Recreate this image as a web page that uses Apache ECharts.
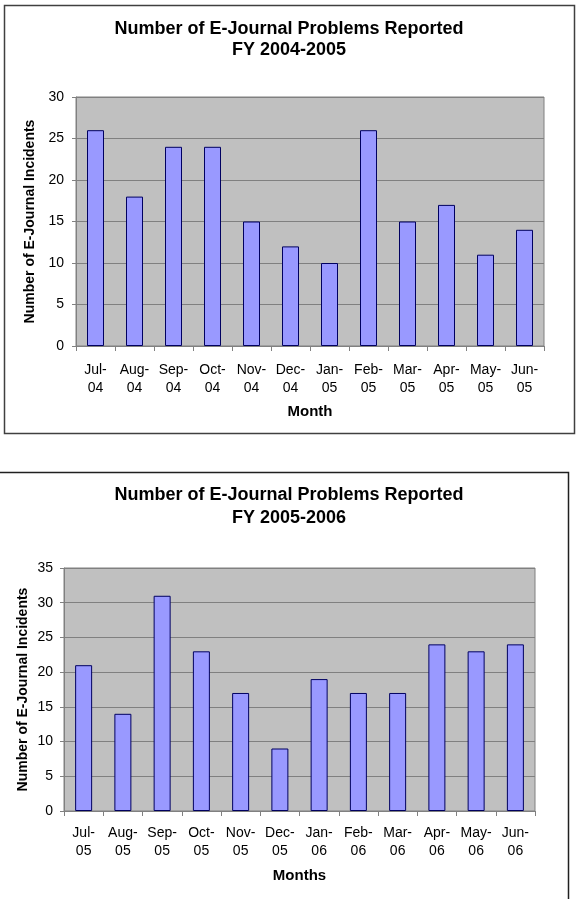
<!DOCTYPE html>
<html>
<head>
<meta charset="utf-8">
<script src="https://cdn.jsdelivr.net/npm/echarts@6/dist/echarts.min.js"></script>
<style>
  html, body { margin: 0; padding: 0; background: #fff; }
  #main { width: 578px; height: 899px; }
</style>
</head>
<body>
<div id="main"></div>
<script>
// 数据
var months1 = ['Jul-\n04', 'Aug-\n04', 'Sep-\n04', 'Oct-\n04', 'Nov-\n04', 'Dec-\n04',
  'Jan-\n05', 'Feb-\n05', 'Mar-\n05', 'Apr-\n05', 'May-\n05', 'Jun-\n05'];
var incidents1 = [26, 18, 24, 24, 15, 12, 10, 26, 15, 17, 11, 14];

var months2 = ['Jul-\n05', 'Aug-\n05', 'Sep-\n05', 'Oct-\n05', 'Nov-\n05', 'Dec-\n05',
  'Jan-\n06', 'Feb-\n06', 'Mar-\n06', 'Apr-\n06', 'May-\n06', 'Jun-\n06'];
var incidents2 = [21, 14, 31, 23, 17, 9, 19, 17, 17, 24, 23, 24];

var font = 'Liberation Sans, Arial, sans-serif';

function yAxisOf(gridIndex, max, gap, margin) {
  return {
    gridIndex: gridIndex,
    type: 'value',
    min: 0,
    max: max,
    interval: 5,
    name: 'Number of E-Journal Incidents',
    nameLocation: 'middle',
    nameGap: gap,
    nameMoveOverlap: false,
    nameTextStyle: { fontFamily: font, fontSize: 14, fontWeight: 'bold', color: '#000' },
    axisLine: { show: true, lineStyle: { color: '#808080' } },
    axisTick: { show: true, length: 4, lineStyle: { color: '#808080' } },
    axisLabel: { color: '#000', fontFamily: font, fontSize: 14, margin: margin },
    //网格线
    splitLine: { show: true, lineStyle: { color: '#808080', width: 1 } }
  };
}

function xAxisOf(gridIndex, data, name, margin, gap) {
  return {
    gridIndex: gridIndex,
    type: 'category',
    data: data,
    name: name,
    nameLocation: 'middle',
    nameGap: gap,
    nameMoveOverlap: false,
    nameTextStyle: { fontFamily: font, fontSize: 15, fontWeight: 'bold', color: '#000' },
    axisLine: { show: true, lineStyle: { color: '#808080' } },
    axisTick: { show: true, length: 5, lineStyle: { color: '#808080' } },
    axisLabel: { color: '#000', fontFamily: font, fontSize: 14, lineHeight: 18, margin: margin, interval: 0 }
  };
}

function barOf(idx, data) {
  return {
    type: 'bar',
    xAxisIndex: idx,
    yAxisIndex: idx,
    data: data,
    barWidth: 17,
    itemStyle: { color: '#9999FF', borderColor: '#000060', borderWidth: 1 }
  };
}

var chart = echarts.init(document.getElementById('main'), null, { renderer: 'canvas' });
chart.setOption({
  animation: false,
  title: [{
    text: 'Number of E-Journal Problems Reported\nFY 2004-2005',
    left: 'center', top: 14,
    textStyle: { fontFamily: font, fontSize: 18, fontWeight: 'bold', color: '#000', lineHeight: 21 }
  }, {
    text: 'Number of E-Journal Problems Reported\nFY 2005-2006',
    left: 'center', top: 479,
    textStyle: { fontFamily: font, fontSize: 18, fontWeight: 'bold', color: '#000', lineHeight: 23 }
  }],
  graphic: [
    { type: 'rect', shape: { x: 4.5, y: 5.5, width: 570, height: 428 },
      style: { fill: 'none', stroke: '#404040', lineWidth: 1.5 }, silent: true },
    { type: 'rect', shape: { x: -2, y: 472.5, width: 570.5, height: 440 },
      style: { fill: 'none', stroke: '#202020', lineWidth: 1.5 }, silent: true }
  ],
  grid: [
    { left: 76, top: 97, width: 468, height: 249, show: true,
      backgroundColor: '#C0C0C0', borderColor: '#808080', borderWidth: 1 },
    { left: 64, top: 568, width: 471, height: 243, show: true,
      backgroundColor: '#C0C0C0', borderColor: '#808080', borderWidth: 1 }
  ],
  xAxis: [xAxisOf(0, months1, 'Month', 15, 58), xAxisOf(1, months2, 'Months', 13, 57)],
  yAxis: [yAxisOf(0, 30, 39, 12), yAxisOf(1, 35, 34, 11)],
  series: [barOf(0, incidents1), barOf(1, incidents2)]
});
</script>
</body>
</html>
